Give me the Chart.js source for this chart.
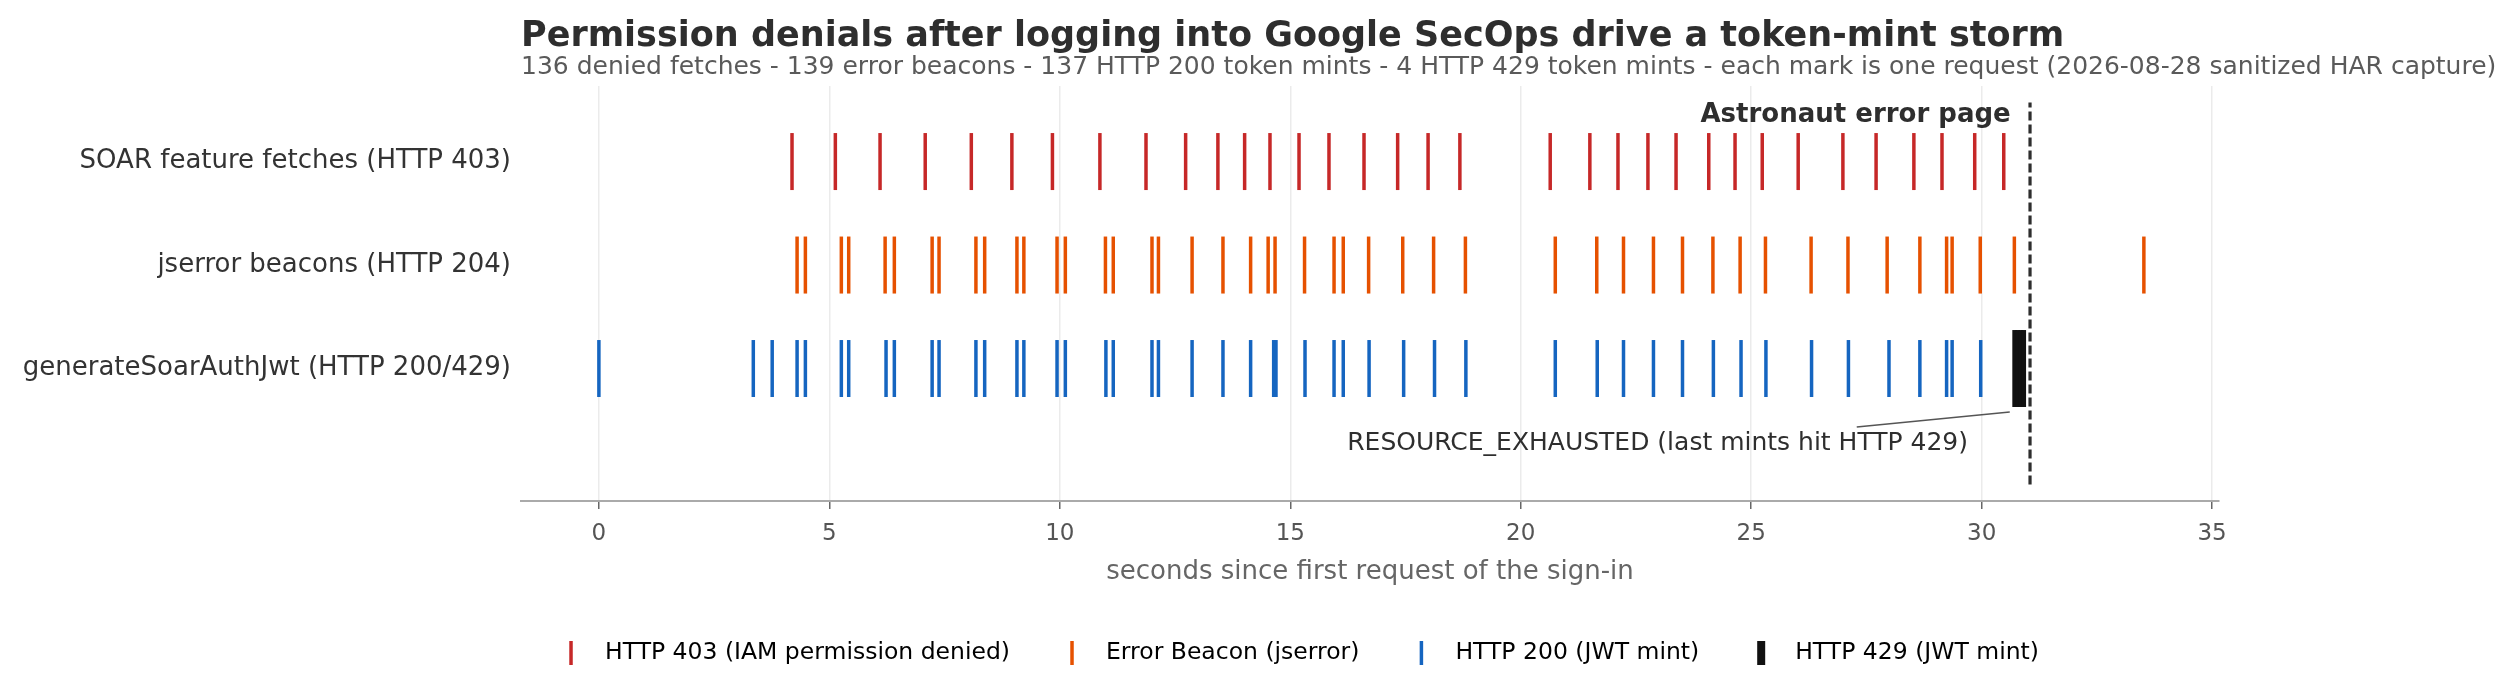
<!DOCTYPE html>
<html>
<head>
<meta charset="utf-8">
<script src="https://cdn.jsdelivr.net/npm/chart.js@4.4.1/dist/chart.umd.min.js"></script>
<style>
  html, body { margin: 0; padding: 0; background: #fff; }
  #wrap { width: 2512px; height: 693px; }
</style>
</head>
<body>
<div id="wrap"><canvas id="storm" width="2512" height="693"></canvas></div>
<script>
// seconds since the first request
const rowLabels = ['generateSoarAuthJwt (HTTP 200/429)', 'jserror beacons (HTTP 204)', 'SOAR feature fetches (HTTP 403)'];
const xTicks = [0, 5, 10, 15, 20, 25, 30, 35];

const denied403 = [4.19, 5.13, 6.10, 7.08, 8.08, 8.96, 9.84, 10.87, 11.87, 12.73, 13.43, 14.01,
  14.56, 15.19, 15.84, 16.60, 17.33, 17.99, 18.68, 20.64, 21.50, 22.11, 22.76, 23.37, 24.08,
  24.65, 25.24, 26.02, 26.99, 27.71, 28.53, 29.14, 29.85, 30.48];

const beacons204 = [4.30, 4.48, 5.26, 5.42, 6.21, 6.41, 7.23, 7.38, 8.18, 8.37, 9.07, 9.22,
  9.94, 10.12, 10.99, 11.16, 12.00, 12.14, 12.87, 13.54, 14.14, 14.52, 14.67, 15.31, 15.95,
  16.15, 16.70, 17.44, 18.11, 18.80, 20.75, 21.65, 22.23, 22.88, 23.51, 24.17, 24.76, 25.31,
  26.30, 27.10, 27.95, 28.66, 29.24, 29.36, 29.97, 30.71, 33.52];

const mints200 = [0.00, 3.35, 3.76, 4.30, 4.48, 5.26, 5.42, 6.23, 6.41, 7.23, 7.38, 8.18, 8.37,
  9.07, 9.22, 9.94, 10.12, 11.00, 11.16, 12.00, 12.14, 12.87, 13.54, 14.14, 14.64, 14.69, 15.32,
  15.95, 16.15, 16.71, 17.46, 18.13, 18.81, 20.75, 21.66, 22.23, 22.88, 23.51, 24.18, 24.78,
  25.32, 26.31, 27.11, 27.99, 28.66, 29.24, 29.36, 29.98];

const mints429 = [30.72, 30.78, 30.85, 30.91];

const errorPageAt = 31.05;   // astronaut error page shown
const calloutFrom = [30.61, -0.42];
const calloutTo = [27.29, -0.565];

const TITLE = 'Permission denials after logging into Google SecOps drive a token-mint storm';
const SUBTITLE = '136 denied fetches - 139 error beacons - 137 HTTP 200 token mints - 4 HTTP 429 token mints - each mark is one request (2026-08-28 sanitized HAR capture)';

const X_MIN = -1.69, X_MAX = 35.15;
const Y_MIN = -1.28, Y_MAX = 2.73;
const FONT = '"DejaVu Sans", sans-serif';

const RED = '#c62828', ORANGE = '#e65100', BLUE = '#1565c0', BLACK = '#111111';

function onRow(times, row) {
  return times.map(t => ({ x: t, y: row }));
}

function marks(label, times, row, color, len, width, order) {
  return {
    label: label,
    data: onRow(times, row),
    pointStyle: 'line',
    pointRotation: 90,
    pointRadius: len / 2,
    pointHoverRadius: len / 2,
    pointBorderColor: color,
    pointBorderWidth: width,
    pointHoverBorderWidth: width,
    borderColor: color,
    backgroundColor: color,
    showLine: false,
    order: order
  };
}

const yLo = Y_MIN + 0.04 * (Y_MAX - Y_MIN);
const yHi = Y_MIN + 0.96 * (Y_MAX - Y_MIN);

const legendItems = [
  { text: 'HTTP 403 (IAM permission denied)', color: RED, w: 3.5 },
  { text: 'Error Beacon (jserror)', color: ORANGE, w: 3.5 },
  { text: 'HTTP 200 (JWT mint)', color: BLUE, w: 3.5 },
  { text: 'HTTP 429 (JWT mint)', color: BLACK, w: 8 }
];

const extras = {
  id: 'extras',
  afterDraw(chart) {
    const ctx = chart.ctx;
    const xs = chart.scales.x, ys = chart.scales.y;
    const left = chart.chartArea.left;
    ctx.save();
    ctx.textBaseline = 'alphabetic';
    ctx.textAlign = 'left';
    ctx.fillStyle = '#2e2e2e';
    ctx.font = 'bold 35px ' + FONT;
    ctx.fillText(TITLE, left, 46);
    ctx.fillStyle = '#5a5a5a';
    ctx.font = '25px ' + FONT;
    ctx.fillText(SUBTITLE, left, 74);

    // annotations
    ctx.textBaseline = 'middle';
    ctx.textAlign = 'right';
    ctx.fillStyle = '#2e2e2e';
    ctx.font = 'bold 26px ' + FONT;
    ctx.fillText('Astronaut error page', xs.getPixelForValue(errorPageAt - 0.42), ys.getPixelForValue(2.45));
    ctx.textAlign = 'center';
    ctx.font = '25px ' + FONT;
    ctx.fillText('RESOURCE_EXHAUSTED (last mints hit HTTP 429)', xs.getPixelForValue(22.97), ys.getPixelForValue(-0.72));

    // legend
    ctx.font = '23.5px ' + FONT;
    const gapText = 34, gapItem = 62;
    let total = 0;
    legendItems.forEach((it, i) => {
      total += gapText + ctx.measureText(it.text).width + (i < legendItems.length - 1 ? gapItem : 0);
    });
    let x = 1305 - total / 2;
    const ly = 653;
    ctx.textAlign = 'left';
    legendItems.forEach(it => {
      ctx.strokeStyle = it.color;
      ctx.lineWidth = it.w;
      ctx.beginPath();
      ctx.moveTo(x, ly - 12);
      ctx.lineTo(x, ly + 12);
      ctx.stroke();
      ctx.fillStyle = '#000';
      ctx.fillText(it.text, x + gapText, ly);
      x += gapText + ctx.measureText(it.text).width + gapItem;
    });
    ctx.restore();
  }
};

Chart.defaults.font.family = FONT;

new Chart(document.getElementById('storm'), {
  type: 'scatter',
  data: {
    datasets: [
      marks('HTTP 403 (IAM permission denied)', denied403, 2, RED, 57, 3.5, 4),
      marks('Error Beacon (jserror)', beacons204, 1, ORANGE, 57, 3.5, 3),
      marks('HTTP 200 (JWT mint)', mints200, 0, BLUE, 57, 3.5, 2),
      marks('HTTP 429 (JWT mint)', mints429, 0, BLACK, 77, 5, 1),
      {
        label: 'error page',
        type: 'line',
        data: [{ x: errorPageAt, y: yLo }, { x: errorPageAt, y: yHi }],
        borderColor: '#2e2e2e',
        borderWidth: 3.2,
        borderDash: [9, 4],
        pointRadius: 0,
        showLine: true,
        order: 0
      },
      {
        label: 'callout',
        type: 'line',
        data: [{ x: calloutFrom[0], y: calloutFrom[1] }, { x: calloutTo[0], y: calloutTo[1] }],
        borderColor: '#555555',
        borderWidth: 1.6,
        pointRadius: 0,
        showLine: true,
        order: 0
      }
    ]
  },
  options: {
    responsive: false,
    animation: false,
    devicePixelRatio: 1,
    layout: { padding: { top: 86, right: 293, bottom: 92, left: 0 } },
    plugins: {
      legend: { display: false },
      title: { display: false },
      tooltip: { enabled: false }
    },
    scales: {
      x: {
        type: 'linear',
        min: X_MIN,
        max: X_MAX,
        afterBuildTicks: s => { s.ticks = xTicks.map(v => ({ value: v })); },
        afterFit: s => { s.height = 100; },
        grid: { color: '#ebebeb', lineWidth: 1.5, drawTicks: true, tickLength: 8, tickColor: '#666', tickWidth: 1.5 },
        border: { display: true, color: '#aaaaaa', width: 2 },
        ticks: { color: '#555', font: { size: 23 }, padding: 11, maxRotation: 0 },
        title: {
          display: true,
          text: 'seconds since first request of the sign-in',
          color: '#666',
          font: { size: 26 },
          padding: { top: 0, bottom: 13 }
        }
      },
      y: {
        type: 'linear',
        min: Y_MIN,
        max: Y_MAX,
        afterBuildTicks: s => { s.ticks = rowLabels.map((_, i) => ({ value: i })); },
        afterFit: s => { s.width = 521; },
        grid: { display: false, drawTicks: false },
        border: { display: false },
        ticks: {
          color: '#333',
          font: { size: 26 },
          padding: 10,
          callback: v => rowLabels[v]
        }
      }
    }
  },
  plugins: [extras]
});
</script>
</body>
</html>
